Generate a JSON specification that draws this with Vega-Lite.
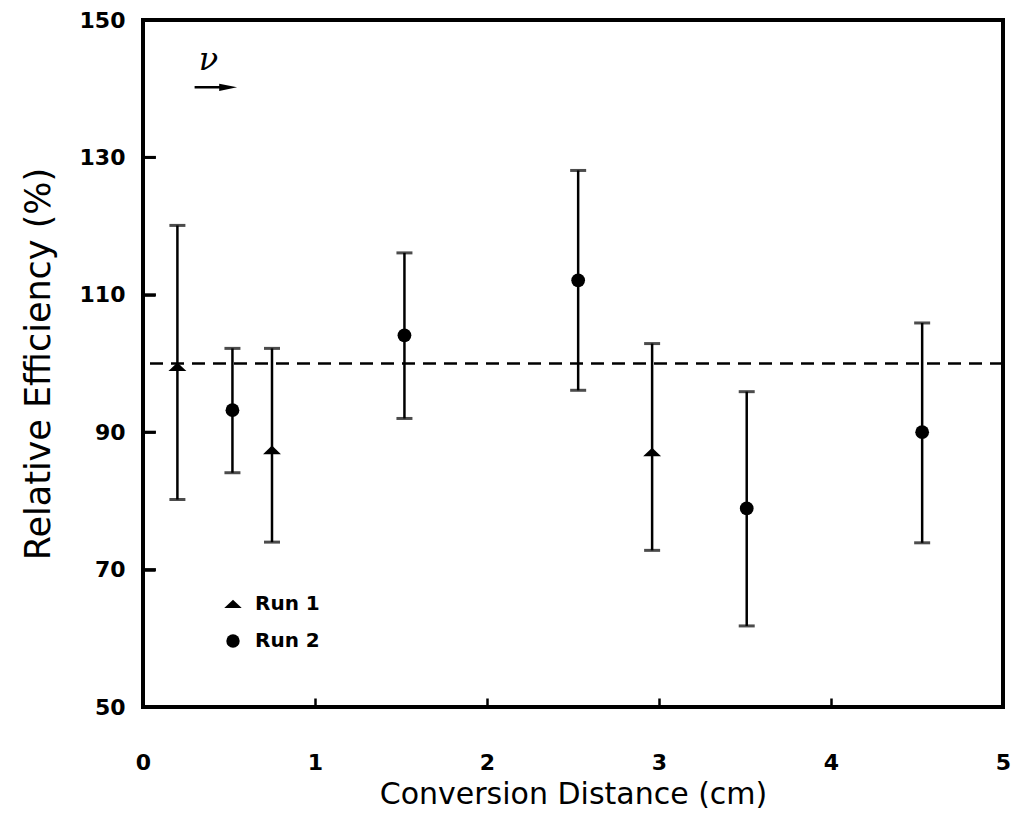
{
  "$schema": "https://vega.github.io/schema/vega-lite/v6.json",
  "width": 860,
  "height": 687,
  "autosize": {"type": "none"},
  "padding": {"left": 143, "top": 20, "right": 12, "bottom": 110},
  "background": "white",
  "config": {
    "view": {"stroke": "black", "strokeWidth": 4},
    "font": "DejaVu Sans",
    "axis": {"grid": false, "domain": false, "ticks": true, "tickColor": "black", "tickOpacity": 1, "tickWidth": 2.5, "labelColor": "black", "titleColor": "black", "labelFont": "DejaVu Sans", "titleFont": "DejaVu Sans", "titleFontWeight": "normal", "labelFontWeight": "bold", "labelFontSize": 22},
    "axisY": {"tickSize": -12, "labelPadding": 30},
    "axisX": {"tickSize": -9, "labelPadding": 54}
  },
  "datasets": {
    "pts": [
      {"run": "Run 1", "x": 0.2, "eff": 99.5, "lo": 80.2, "hi": 120.1},
      {"run": "Run 2", "x": 0.52, "eff": 93.2, "lo": 84.1, "hi": 102.2},
      {"run": "Run 1", "x": 0.75, "eff": 87.4, "lo": 74.0, "hi": 102.2},
      {"run": "Run 2", "x": 1.52, "eff": 104.1, "lo": 92.0, "hi": 116.1},
      {"run": "Run 2", "x": 2.53, "eff": 112.1, "lo": 96.1, "hi": 128.1},
      {"run": "Run 1", "x": 2.96, "eff": 87.1, "lo": 72.8, "hi": 102.9},
      {"run": "Run 2", "x": 3.51, "eff": 78.9, "lo": 61.8, "hi": 95.9},
      {"run": "Run 2", "x": 4.53, "eff": 90.0, "lo": 73.9, "hi": 105.9}
    ],
    "yticks": [{"v": 70}, {"v": 90}, {"v": 110}, {"v": 130}],
    "one": [{}]
  },
  "layer": [
    {
      "data": {"name": "pts"},
      "mark": {"type": "rule", "strokeWidth": 2.5, "color": "black"},
      "encoding": {
        "x": {"field": "x", "type": "quantitative", "scale": {"domain": [0, 5], "nice": false},
          "axis": {"title": "Conversion Distance (cm)", "values": [0, 1, 2, 3, 4, 5], "labelFlush": false, "titleFontSize": 30, "titlePadding": 6, "format": "d"}},
        "y": {"field": "lo", "type": "quantitative", "scale": {"domain": [50, 150], "nice": false},
          "axis": {"title": "Relative Efficiency (%)", "values": [50, 70, 90, 110, 130, 150], "titleFontSize": 35, "titlePadding": 23}},
        "y2": {"field": "hi"}
      }
    },
    {
      "data": {"name": "yticks"},
      "mark": {"type": "rule", "strokeWidth": 3, "color": "black"},
      "encoding": {"x": {"datum": 0, "type": "quantitative"}, "x2": {"datum": 0.075}, "y": {"field": "v", "type": "quantitative"}}
    },
    {
      "data": {"name": "one"},
      "mark": {"type": "rule", "strokeDash": [13, 8], "strokeWidth": 2.5, "color": "black"},
      "encoding": {"y": {"datum": 100, "type": "quantitative"}}
    },
    {
      "data": {"name": "pts"},
      "mark": {"type": "tick", "orient": "horizontal", "size": 16, "thickness": 3, "color": "black"},
      "encoding": {"x": {"field": "x", "type": "quantitative"}, "y": {"field": "lo", "type": "quantitative"}}
    },
    {
      "data": {"name": "pts"},
      "mark": {"type": "tick", "orient": "horizontal", "size": 16, "thickness": 3, "color": "black"},
      "encoding": {"x": {"field": "x", "type": "quantitative"}, "y": {"field": "hi", "type": "quantitative"}}
    },
    {
      "data": {"name": "pts"},
      "mark": {"type": "point", "filled": true, "color": "black", "opacity": 1},
      "encoding": {
        "x": {"field": "x", "type": "quantitative"},
        "y": {"field": "eff", "type": "quantitative"},
        "shape": {"field": "run", "type": "nominal",
          "scale": {"domain": ["Run 1", "Run 2"], "range": ["M-1.3,0.6L0,-0.65L1.3,0.6Z", "circle"]},
          "legend": {"title": null, "orient": "none", "legendX": 80, "legendY": 574, "labelFontSize": 20, "labelFontWeight": "bold", "symbolSize": 180, "symbolFillColor": "black", "symbolStrokeColor": "black", "rowPadding": 17, "labelOffset": 12}},
        "size": {"value": 190}
      }
    },
    {
      "data": {"name": "one"},
      "mark": {"type": "text", "text": "ν", "font": "DejaVu Serif", "fontStyle": "italic", "fontSize": 32, "color": "black", "baseline": "middle", "align": "center"},
      "encoding": {"x": {"datum": 0.38, "type": "quantitative"}, "y": {"datum": 144.2, "type": "quantitative"}}
    },
    {
      "data": {"name": "one"},
      "mark": {"type": "rule", "strokeWidth": 2.5, "color": "black"},
      "encoding": {"x": {"datum": 0.3, "type": "quantitative"}, "x2": {"datum": 0.5}, "y": {"datum": 140.2, "type": "quantitative"}}
    },
    {
      "data": {"name": "one"},
      "mark": {"type": "point", "shape": "M-1,-0.4L1,0L-1,0.4Z", "filled": true, "color": "black", "opacity": 1, "size": 320},
      "encoding": {"x": {"datum": 0.495, "type": "quantitative"}, "y": {"datum": 140.2, "type": "quantitative"}}
    }
  ]
}
